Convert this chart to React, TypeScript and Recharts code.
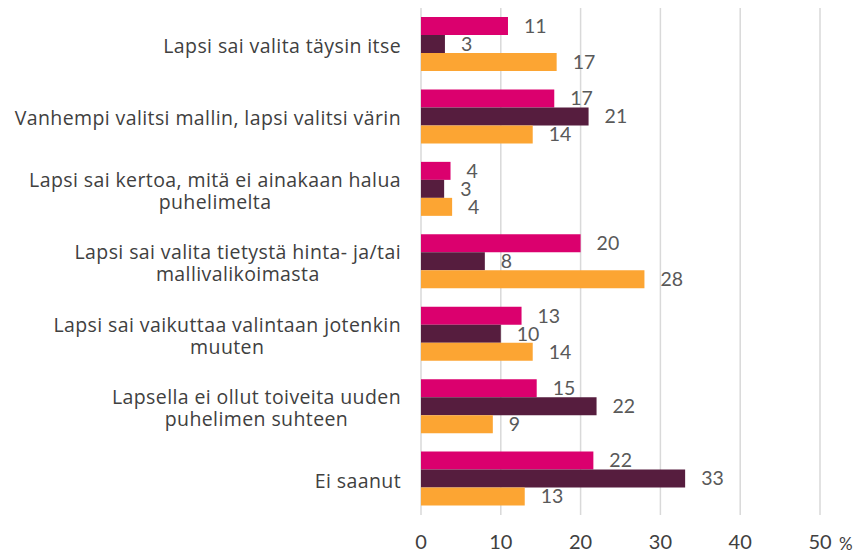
import React from 'react'
import { BarChart, Bar, XAxis, YAxis, CartesianGrid, LabelList } from 'recharts'

const categories = [
  'Lapsi sai valita täysin itse',
  'Vanhempi valitsi mallin, lapsi valitsi värin',
  'Lapsi sai kertoa, mitä ei ainakaan halua\npuhelimelta',
  'Lapsi sai valita tietystä hinta- ja/tai\nmallivalikoimasta',
  'Lapsi sai vaikuttaa valintaan jotenkin\nmuuten',
  'Lapsella ei ollut toiveita uuden\npuhelimen suhteen',
  'Ei saanut',
]
const pinkValues = [10.9, 16.7, 3.7, 20.0, 12.6, 14.5, 21.6]
const maroonValues = [3.0, 21.0, 2.9, 8.0, 10.0, 22.0, 33.1]
const orangeValues = [17.0, 14.0, 3.9, 28.0, 14.0, 9.0, 13.0]
const xTicks = [0, 10, 20, 30, 40, 50]

const data = categories.map((name, i) => ({
  name,
  pink: pinkValues[i],
  maroon: maroonValues[i],
  orange: orangeValues[i],
}))

const FONT = 'Lato, "Open Sans", sans-serif'
const CAT_FONT = '"Open Sans", sans-serif'
const CAT_SIZE = 19.5
const CAT_SPACING = 0.4

let ctx: CanvasRenderingContext2D | null = null
const measure = (text: string) => {
  if (!ctx) ctx = document.createElement('canvas').getContext('2d')
  if (!ctx) return text.length * 9.5
  ctx.font = `${CAT_SIZE}px "Open Sans"`
  return ctx.measureText(text).width + text.length * CAT_SPACING
}

// wrapped category label: lines centred on each other, block right-aligned
const CategoryTick = (props: any) => {
  const { x, y, payload } = props
  const lines: string[] = String(payload.value).split('\n')
  const blockWidth = Math.max(...lines.map(measure))
  const right = x - 12
  const cx = right - blockWidth / 2
  const lineHeight = 22
  const startY = y + 2 - ((lines.length - 1) * lineHeight) / 2
  return (
    <text
      textAnchor="middle"
      fontFamily={CAT_FONT}
      fontSize={CAT_SIZE}
      letterSpacing={CAT_SPACING}
      fill="#404040"
    >
      {lines.map((line, i) => (
        <tspan key={i} x={cx} y={startY + i * lineHeight} dy="0.35em">
          {line}
        </tspan>
      ))}
    </text>
  )
}

const ValueTick = (props: any) => {
  const { x, y, payload } = props
  return (
    <g>
      <text x={x} y={y} textAnchor="middle" dy="0.35em" fontFamily={FONT} fontSize={20} fill="#404040">
        {payload.value}
      </text>
      {payload.value === 50 && (
        <text x={x + 19} y={y + 2} dy="0.35em" fontFamily={FONT} fontSize={17} fill="#404040">
          %
        </text>
      )}
    </g>
  )
}

const fmt = (v: any) => Math.round(Number(v))

export default function App() {
  return (
    <div style={{ position: 'absolute', left: 0, top: 0, width: 860, height: 554, background: '#fff' }}>
      <BarChart
        width={860}
        height={554}
        data={data}
        layout="vertical"
        margin={{ top: 8, right: 40, bottom: 0, left: 0 }}
        barCategoryGap={9}
        barGap={0}
      >
        <CartesianGrid horizontal={false} stroke="#d9d9d9" strokeWidth={1.5} />
        <XAxis
          type="number"
          domain={[0, 50]}
          ticks={xTicks}
          axisLine={false}
          tickLine={false}
          tick={<ValueTick />}
          tickMargin={21}
          height={39}
        />
        <YAxis
          type="category"
          dataKey="name"
          width={421}
          axisLine={false}
          tickLine={false}
          tick={<CategoryTick />}
          interval={0}
        />
        <Bar dataKey="pink" fill="#DB006E" barSize={18} isAnimationActive={false}>
          <LabelList dataKey="pink" position="right" offset={16} formatter={fmt} fontFamily={FONT} fontSize={19.5} fill="#595959" />
        </Bar>
        <Bar dataKey="maroon" fill="#561D3E" barSize={18} isAnimationActive={false}>
          <LabelList dataKey="maroon" position="right" offset={16} formatter={fmt} fontFamily={FONT} fontSize={19.5} fill="#595959" />
        </Bar>
        <Bar dataKey="orange" fill="#FCA533" barSize={18} isAnimationActive={false}>
          <LabelList dataKey="orange" position="right" offset={16} formatter={fmt} fontFamily={FONT} fontSize={19.5} fill="#595959" />
        </Bar>
      </BarChart>
    </div>
  )
}
